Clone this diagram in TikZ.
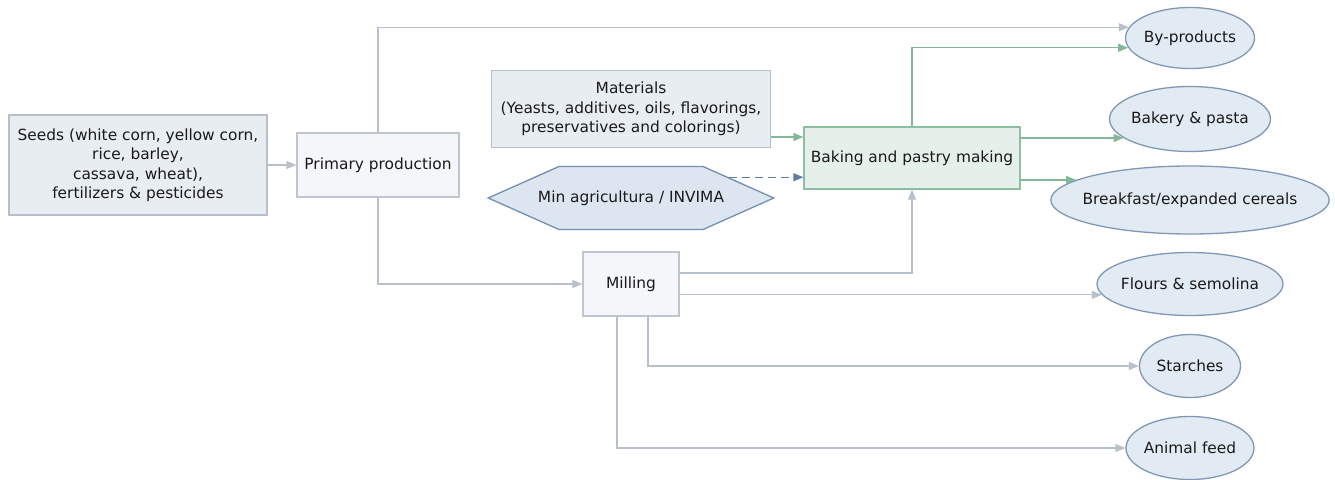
\documentclass[tikz,border=0pt]{standalone}
\usepackage{fontspec}
\setmainfont{DejaVu Sans}
\usepackage{tikz}
\usetikzlibrary{shapes.geometric,shapes.symbols,arrows.meta}
\usepackage{xcolor}
\definecolor{txtdark}{HTML}{1A1A1A}
\definecolor{inputfill}{HTML}{E8EDF2}
\definecolor{inputline}{HTML}{B7BFCB}
\definecolor{stagefill}{HTML}{F4F6F9}
\definecolor{stageline}{HTML}{BFC6D0}
\definecolor{bakefill}{HTML}{E6F0EA}
\definecolor{bakeline}{HTML}{8CBFA0}
\definecolor{hexfill}{HTML}{DDE6F0}
\definecolor{hexline}{HTML}{7190B0}
\definecolor{prodfill}{HTML}{E2EAF4}
\definecolor{prodline}{HTML}{8098B4}
\definecolor{greyflow}{HTML}{B8C0CC}
\definecolor{greenflow}{HTML}{84B899}
\definecolor{dashflow}{HTML}{5E7EA0}

\begin{document}
\begin{tikzpicture}[x=1pt, y=-1pt, font=\fontsize{15.4}{19.5}\selectfont,
    every node/.style={text=txtdark,align=center,inner sep=0,line width=1.3pt},
    inputbox/.style={rectangle,draw=inputline,fill=inputfill},
    stagebox/.style={rectangle,draw=stageline,fill=stagefill},
    bakebox/.style={rectangle,draw=bakeline,fill=bakefill},
    agency/.style={signal,signal to=east and west,signal pointer angle=48,inner xsep=-21pt,draw=hexline,fill=hexfill},
    product/.style={ellipse,inner xsep=-9pt,draw=prodline,fill=prodfill},
    grey arrow/.style={draw=greyflow,line width=1.3pt,-{Triangle[length=10pt,width=8pt]}},
    green arrow/.style={draw=greenflow,line width=1.3pt,-{Triangle[length=10pt,width=8pt]}},
    dash arrow/.style={draw=dashflow,line width=1.3pt,dash pattern=on 8pt off 5pt,-{Triangle[length=10pt,width=8pt]}}]
        \useasboundingbox (0,0) rectangle (1335,479);
        \node at (138,165) [inputbox,minimum width=258pt,minimum height=100pt] (seeds) {Seeds (white corn, yellow corn,\\rice, barley,\\cassava, wheat),\\fertilizers \& pesticides};
        \node at (378,165) [stagebox,minimum width=162pt,minimum height=64pt] (primary) {Primary production};
        \node at (631,109) [inputbox,minimum width=279pt,minimum height=77pt] (materials) {Materials\\(Yeasts, additives, oils, flavorings,\\preservatives and colorings)};
        \node at (912,158) [bakebox,minimum width=216pt,minimum height=62pt] (baking) {Baking and pastry making};
        \node at (631,198) [agency,minimum height=63pt] (agency) {Min agricultura / INVIMA};
        \node at (631,284) [stagebox,minimum width=96pt,minimum height=64pt] (milling) {Milling};
        \node at (1190,38) [product,minimum width=129pt,minimum height=61pt] (byproducts) {By-products};
        \node at (1190,119) [product,minimum width=161pt,minimum height=65pt] (bakery) {Bakery \& pasta};
        \node at (1190,200) [product,minimum width=277pt,minimum height=68pt] (cereals) {Breakfast/expanded cereals};
        \node at (1190,284) [product,minimum width=186pt,minimum height=63pt] (flours) {Flours \& semolina};
        \node at (1190,366) [product,minimum width=101pt,minimum height=63pt] (starches) {Starches};
        \node at (1190,448) [product,minimum width=128pt,minimum height=63pt] (feed) {Animal feed};
        % grey flows
        \draw[grey arrow] (seeds.east) -- (primary.west);
        \draw[grey arrow] (primary.north) |- (byproducts.170);
        \draw[grey arrow] (primary.south) |- (milling.west);
        \draw[grey arrow] ([yshift=11pt]milling.east) -| (baking.south);
        \draw[grey arrow] (milling.east |- flours.187) -- (flours.187);
        \draw[grey arrow] ([xshift=17pt]milling.south) |- (starches.west);
        \draw[grey arrow] ([xshift=-14pt]milling.south) |- (feed.west);
        % green flows
        \coordinate (bakein) at ([yshift=21pt]baking.west);
        \draw[green arrow] (materials.east |- bakein) -- (bakein);
        \draw[green arrow] (baking.north) |- (byproducts.189);
        \draw[green arrow] (baking.east |- bakery.196) -- (bakery.196);
        \draw[green arrow] (baking.east |- cereals.170) -- (cereals.170);
        % regulation
        \draw[dash arrow] (agency.12) -- (agency.12 -| baking.west);
    \end{tikzpicture}
\end{document}
